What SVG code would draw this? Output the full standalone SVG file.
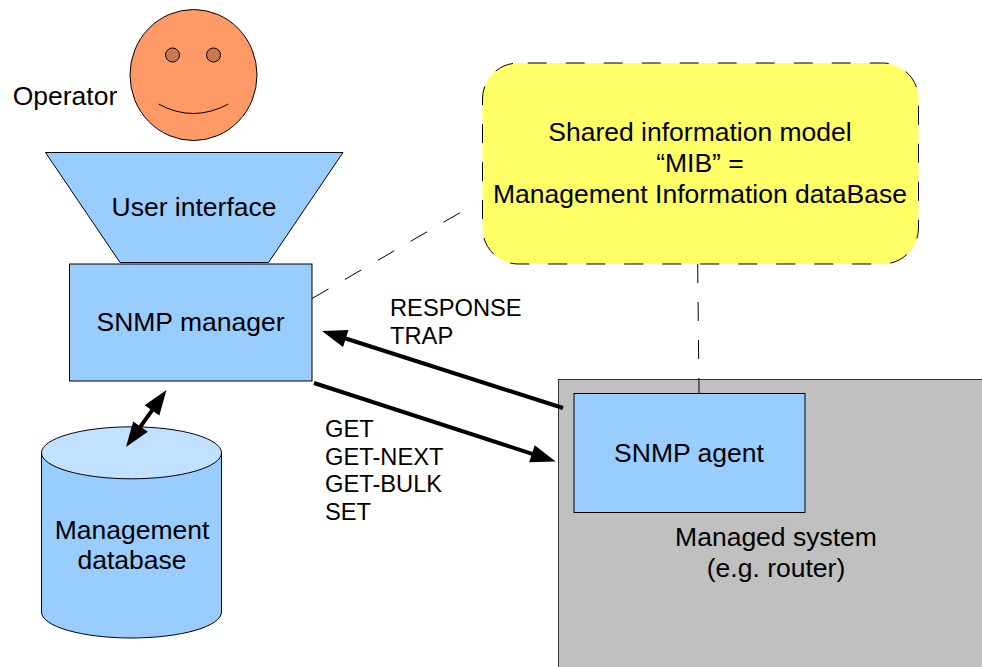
<svg xmlns="http://www.w3.org/2000/svg" width="982" height="667" viewBox="0 0 982 667">
<defs>
<style>
text{font-family:"Liberation Sans",Arial,sans-serif;fill:#000;text-anchor:middle}
.big{font-size:26.500px}
.small{font-size:23.700px;text-anchor:start}
.blue{fill:#99ccff;stroke:#000;stroke-width:1}
.thick{stroke:#000;stroke-width:4;fill:none}
.dash{stroke:#000;stroke-width:1;fill:none;stroke-dasharray:19 19}
</style>
<marker id="ah" markerUnits="userSpaceOnUse" markerWidth="27" markerHeight="20" refX="5" refY="10" orient="auto-start-reverse" overflow="visible"><path d="M0 1L25 10L0 19Z" fill="#000"/></marker>
</defs>
<rect width="982" height="667" fill="#fff"/>
<g id="managed-system"><rect x="558.500" y="379.500" width="424" height="288" fill="#c0c0c0" stroke="#333" stroke-width="1"/><text class="big" x="776" y="546">Managed system</text><text class="big" x="776" y="577">(e.g. router)</text></g>
<g id="operator"><ellipse cx="193.500" cy="75" rx="63.500" ry="65.500" fill="#ff9966" stroke="#000"/><circle cx="172.500" cy="55" r="7" fill="#c8794f" stroke="#000"/><circle cx="213.500" cy="55" r="7" fill="#c8794f" stroke="#000"/><path d="M158.500 104Q193 123 228.500 104" fill="none" stroke="#000"/><text class="big" x="65" y="105">Operator</text></g>
<g id="user-interface"><path class="blue" d="M45.500 152.500H343L268.500 262.500H120Z"/><text class="big" x="194" y="216">User interface</text></g>
<g id="snmp-manager"><rect class="blue" x="69.500" y="264" width="242.500" height="117"/><text class="big" x="190.500" y="331">SNMP manager</text></g>
<g id="management-database"><path class="blue" d="M41.500 452V612A90 26 0 0 0 221.500 612V452Z"/><ellipse cx="131.500" cy="452.800" rx="90" ry="26" fill="#c2e0ff" stroke="#000"/><text class="big" x="132" y="539">Management</text><text class="big" x="132" y="569">database</text></g>
<g id="mib"><path d="M527.700 63H882.500A36 36 0 0 1 918.500 99V228A36 36 0 0 1 882.500 264H518.500A36 36 0 0 1 482.500 228V99A36 36 0 0 1 518.500 63Z" fill="#ffff66" stroke="#000" stroke-dasharray="19 19"/><text class="big" x="700" y="141">Shared information model</text><text class="big" x="700" y="172">“MIB” =</text><text class="big" x="700" y="203">Management Information dataBase</text></g>
<g id="snmp-agent"><rect class="blue" x="574" y="393.500" width="231" height="119"/><text class="big" x="689" y="462">SNMP agent</text></g>
<g id="connectors">
<path class="dash" d="M312 298.500L460 212.700"/>
<path class="dash" d="M697.700 264L699 393"/>
<path class="thick" marker-start="url(#ah)" marker-end="url(#ah)" d="M154.900 406.300L137.600 430.700"/>
<path class="thick" marker-end="url(#ah)" d="M563 408L341 337"/>
<path class="thick" marker-end="url(#ah)" d="M314 383L536.700 455.300"/>
</g>
<g id="labels"><text class="small" x="390" y="316">RESPONSE</text><text class="small" x="390" y="344">TRAP</text><text class="small" x="325" y="437">GET</text><text class="small" x="325" y="465">GET-NEXT</text><text class="small" x="325" y="492">GET-BULK</text><text class="small" x="325" y="520">SET</text></g>
</svg>
